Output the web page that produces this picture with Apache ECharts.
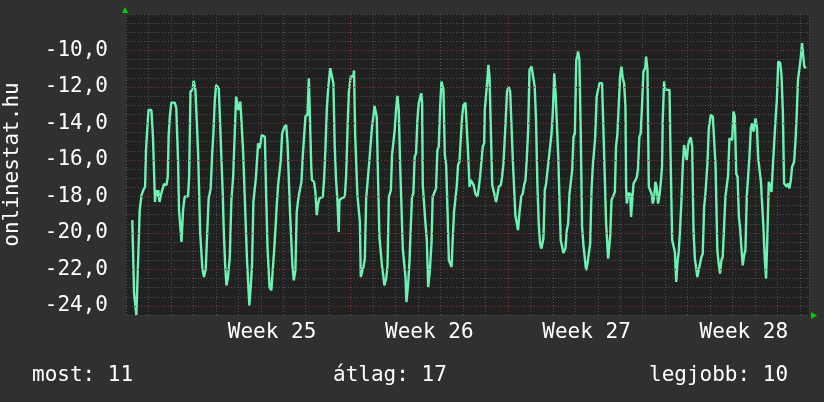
<!DOCTYPE html>
<html>
<head>
<meta charset="utf-8">
<script src="https://cdn.jsdelivr.net/npm/echarts@6/dist/echarts.min.js"></script>
<style>
html, body { margin: 0; padding: 0; background: #303030; }
#chart { width: 824px; height: 402px; }
</style>
</head>
<body>
<div id="chart"></div>
<script>
// x = days from the start of week 25, y = reading
var days = [
  -2.72,-2.64,-2.54,-2.46,-2.39,-2.31,-2.23,-2.15,-2.11,-2.05,-2.00,-1.87,-1.80,-1.75,-1.71,-1.66,-1.60,-1.56,-1.51,-1.45,
  -1.38,-1.31,-1.20,-1.14,-1.10,-1.05,-0.98,-0.83,-0.76,-0.68,-0.64,-0.56,-0.53,-0.49,-0.46,-0.39,-0.24,-0.19,-0.13,-0.04,
  0.01,0.09,0.15,0.21,0.30,0.36,0.40,0.47,0.55,0.62,0.68,0.77,0.83,0.89,0.95,1.01,1.13,1.19,1.25,1.31,
  1.35,1.41,1.47,1.54,1.62,1.69,1.77,1.82,1.90,1.96,2.00,2.03,2.09,2.17,2.21,2.26,2.32,2.39,2.44,2.49,
  2.55,2.61,2.67,2.73,2.78,2.82,2.88,2.94,2.99,3.04,3.18,3.24,3.30,3.35,3.39,3.47,3.53,3.59,3.65,3.71,
  3.77,3.83,3.89,3.95,4.04,4.13,4.19,4.25,4.30,4.36,4.41,4.47,4.54,4.60,4.68,4.75,4.81,4.87,4.93,4.99,
  5.08,5.14,5.21,5.25,5.28,5.37,5.43,5.49,5.55,5.61,5.76,5.82,5.88,5.94,6.00,6.09,6.17,6.23,6.29,6.35,
  6.41,6.47,6.50,6.59,6.74,6.80,6.86,6.92,7.00,7.11,7.15,7.20,7.24,7.30,7.36,7.41,7.45,7.51,7.57,7.63,
  7.69,7.75,7.84,7.89,7.95,8.01,8.06,8.10,8.16,8.22,8.28,8.34,8.40,8.46,8.50,8.58,8.64,8.70,8.79,8.84,
  8.90,8.96,9.02,9.08,9.14,9.20,9.26,9.32,9.38,9.44,9.48,9.56,9.62,9.67,9.73,9.79,9.85,9.91,9.97,10.03,
  10.14,10.18,10.21,10.27,10.33,10.39,10.45,10.52,10.60,10.65,10.71,10.80,10.86,10.92,10.98,11.04,11.13,11.19,11.25,11.31,
  11.37,11.43,11.49,11.54,11.60,11.66,11.72,11.78,11.84,11.90,11.96,12.02,12.11,12.18,12.23,12.29,12.35,12.41,12.47,12.55,
  12.64,12.70,12.76,12.82,12.88,12.94,12.97,13.03,13.09,13.13,13.18,13.24,13.30,13.35,13.41,13.47,13.53,13.59,13.68,13.74,
  13.80,13.86,13.92,13.96,14.02,14.10,14.16,14.22,14.28,14.33,14.39,14.45,14.51,14.59,14.66,14.72,14.78,14.84,14.90,14.96,
  15.05,15.13,15.19,15.25,15.31,15.37,15.43,15.49,15.58,15.64,15.70,15.76,15.82,15.88,15.94,16.00,16.06,16.12,16.18,16.24,
  16.29,16.35,16.41,16.47,16.56,16.62,16.68,16.74,16.80,16.86,16.92,16.98,17.04,17.09,17.12,17.18,17.24,17.30,17.36,17.42,
  17.48,17.54,17.60,17.66,17.72,17.78,17.84,17.88,17.92,17.95,18.01,18.07,18.19,18.25,18.31,18.37,18.43,18.46,18.52,18.55,
  18.61,18.67,18.76,18.81,18.87,18.93,18.99,19.05,19.11,19.17,19.23,19.26,19.29,19.35,19.44,19.48,19.53,19.59,19.68,19.74,
  19.79,19.85,19.91,19.97,20.03,20.11,20.15,20.21,20.27,20.33,20.39,20.45,20.51,20.56,20.62,20.68,20.74,20.80,20.86,20.89,
  20.95,21.01,21.10,21.19,21.25,21.31,21.37,21.43,21.49,21.54,21.60,21.66,21.72,21.78,21.84,21.90,21.96,22.02,22.08,22.14,
  22.20,22.26,22.32,22.37,22.43,22.49,22.55,22.61,22.67,22.73,22.79,22.85,22.88,22.94,22.99,23.03,23.12,23.18,23.24,23.29,
  23.32,23.38,23.44,23.50,23.56,23.62,23.68,23.73,23.80,23.86,23.92,23.98,24.04,24.10,24.16,24.22,24.28,24.34,24.40,24.45,
  24.51,24.57,24.63,24.69,24.75,24.81,24.87,24.93,24.99,25.02,25.08,25.14,25.20,25.26,25.32,25.37,25.43,25.49,25.55,25.61,
  25.67,25.73,25.79,25.85,25.91,25.97,26.03,26.12,26.18,26.24,26.29,26.35,26.41,26.47,26.53,26.59,26.65,26.74,26.80,26.85,
  26.91,26.97,27.03,27.09,27.15,27.19,27.27
];
var temps = [
  -19.30,-23.33,-24.50,-21.50,-18.75,-17.93,-17.66,-17.47,-15.46,-15.37,-13.26,-13.26,-14.73,-14.73,-18.30,-17.66,-18.02,-17.66,-18.30,-17.93,
  -17.93,-17.33,-17.38,-16.92,-14.63,-13.63,-12.86,-12.86,-13.17,-16.19,-18.75,-18.85,-20.49,-20.49,-18.75,-18.02,-17.99,-16.92,-12.25,-12.16,
  -11.65,-12.16,-12.25,-15.64,-19.95,-20.04,-21.96,-22.42,-21.96,-19.85,-18.11,-17.56,-15.82,-14.54,-12.80,-11.89,-12.07,-12.16,-16.01,-18.02,
  -19.85,-21.68,-22.88,-22.42,-21.32,-18.21,-16.92,-16.92,-12.53,-12.44,-13.26,-13.26,-12.80,-12.80,-15.46,-15.55,-19.21,-21.59,-21.68,-23.97,
  -22.97,-21.78,-18.30,-18.21,-17.01,-16.92,-15.09,-15.37,-15.09,-14.63,-14.73,-18.02,-20.86,-20.95,-22.97,-23.15,-22.05,-21.04,-19.85,-18.48,
  -17.38,-17.29,-16.01,-14.54,-14.21,-14.08,-15.09,-15.18,-18.85,-18.94,-21.87,-22.60,-22.05,-18.85,-18.02,-17.93,-17.20,-15.73,-15.73,-13.59,
  -13.53,-11.52,-11.52,-16.56,-17.11,-17.20,-17.75,-19.03,-18.39,-18.11,-18.02,-17.01,-15.27,-13.17,-12.07,-10.97,-10.97,-11.79,-15.27,-17.11,
  -18.21,-19.95,-18.21,-18.11,-18.02,-16.83,-14.36,-12.25,-11.43,-11.43,-11.10,-14.63,-14.73,-17.93,-18.02,-19.40,-22.42,-22.42,-21.87,-21.41,
  -18.11,-18.02,-15.92,-15.92,-14.18,-13.63,-13.04,-13.04,-13.63,-17.11,-20.22,-20.22,-21.87,-22.42,-22.88,-22.51,-21.78,-18.02,-17.66,-15.73,
  -15.64,-14.36,-13.26,-12.49,-13.26,-16.19,-16.28,-20.86,-20.95,-22.42,-23.79,-22.78,-21.50,-19.85,-18.02,-17.84,-15.82,-15.64,-13.81,-12.89,
  -12.34,-12.89,-17.38,-17.47,-19.49,-20.40,-22.97,-22.14,-20.49,-18.02,-17.84,-17.56,-15.46,-15.27,-13.17,-11.70,-12.16,-15.73,-16.28,-18.75,
  -21.50,-21.68,-21.87,-20.40,-18.85,-18.75,-17.47,-16.28,-16.10,-16.10,-13.63,-12.99,-12.86,-12.89,-15.73,-17.47,-17.11,-17.11,-17.38,-17.84,
  -18.02,-17.56,-16.92,-16.83,-15.27,-15.09,-13.26,-13.26,-11.52,-10.79,-11.43,-14.36,-17.38,-17.47,-17.93,-18.30,-17.93,-17.47,-17.38,-16.92,
  -16.19,-14.82,-14.73,-12.25,-11.98,-12.25,-14.18,-16.10,-16.10,-19.03,-19.12,-19.85,-18.94,-18.02,-17.84,-17.38,-17.11,-15.92,-14.36,-11.06,
  -10.88,-10.79,-11.98,-13.81,-17.29,-19.49,-20.59,-20.86,-20.31,-17.66,-17.29,-17.20,-15.92,-15.82,-14.54,-13.35,-11.25,-12.34,-12.25,-15.82,
  -18.02,-20.40,-20.49,-21.10,-20.86,-19.85,-19.49,-17.84,-17.84,-16.56,-14.73,-14.54,-10.51,-10.33,-10.05,-10.51,-14.54,-19.67,-20.68,-20.77,
  -22.05,-21.68,-21.14,-20.59,-17.66,-16.28,-16.19,-14.82,-14.73,-12.53,-12.44,-11.79,-11.79,-14.36,-14.36,-19.49,-19.49,-21.41,-21.41,-20.22,
  -18.21,-18.02,-17.75,-15.27,-14.63,-14.58,-11.43,-10.88,-11.52,-11.79,-13.08,-17.47,-18.39,-17.84,-17.84,-19.12,-19.12,-17.29,-17.11,-16.92,
  -16.47,-14.73,-14.54,-12.99,-11.15,-10.97,-10.33,-11.06,-17.47,-17.56,-17.84,-18.39,-18.02,-17.20,-17.47,-18.39,-18.02,-17.29,-16.37,-13.81,
  -11.70,-12.16,-12.16,-12.16,-16.56,-20.40,-20.49,-21.04,-22.69,-21.68,-21.04,-19.85,-18.30,-16.37,-15.18,-15.18,-16.01,-15.18,-14.91,-14.76,
  -15.27,-19.85,-21.41,-21.50,-22.42,-22.05,-21.96,-21.32,-21.14,-18.66,-17.84,-17.75,-16.19,-14.27,-14.18,-13.53,-13.63,-13.72,-16.28,-19.12,
  -20.95,-21.68,-22.23,-21.50,-21.32,-19.67,-18.02,-18.02,-16.83,-14.82,-14.82,-14.91,-13.35,-13.63,-16.74,-16.92,-19.12,-19.85,-20.95,-21.78,
  -21.23,-20.95,-18.02,-17.93,-15.82,-14.27,-13.99,-14.45,-14.54,-13.72,-14.18,-15.92,-16.01,-17.20,-17.29,-19.67,-21.41,-22.51,-20.04,-17.20,
  -17.29,-17.75,-16.37,-16.37,-13.81,-12.71,-10.60,-10.70,-11.43,-13.53,-17.29,-17.29,-17.47,-17.29,-17.56,-17.11,-16.37,-16.10,-14.91,-13.63,
  -11.61,-11.52,-10.42,-9.60,-9.60,-10.88,-10.97
];
var weekLabels = ['Week 25', 'Week 26', 'Week 27', 'Week 28'];
var weekCenters = [3.5, 10.5, 17.5, 24.5];
var weekStarts = [0, 7, 14, 21];
var majorY = [-24, -22, -20, -18, -16, -14, -12, -10];
var footerLabels = ['most: 11', 'átlag: 17', 'legjobb: 10'];
var footerX = [32, 333, 649];

var font = '"DejaVu Sans Mono", monospace';
var chart = echarts.init(document.getElementById('chart'));

var points = days.map(function (d, i) { return [d, temps[i]]; });
var redLine = { color: '#7c3434', type: [1, 2], width: 1 };

var option = {
  animation: false,
  backgroundColor: '#303030',
  grid: {
    left: 126, top: 14, width: 683, height: 301, containLabel: false, outerBoundsMode: 'none',
    show: true, backgroundColor: '#212121', borderWidth: 0
  },
  xAxis: [{
    type: 'value', min: -3, max: 27.4, interval: 1,
    axisLine: { show: false }, axisTick: { show: false }, axisLabel: { show: false },
    splitLine: { show: true, lineStyle: { color: '#505050', type: [1, 2], width: 1 } }
  }, {
    type: 'value', min: -3, max: 27.4, interval: 0.5, position: 'bottom',
    axisLine: { show: false }, axisTick: { show: false }, splitLine: { show: false },
    axisLabel: {
      color: '#ffffff', fontFamily: font, fontSize: 21, margin: 7,
      showMinLabel: false, showMaxLabel: false, hideOverlap: false,
      formatter: function (v) {
        var i = weekCenters.indexOf(v);
        return i >= 0 ? weekLabels[i] : '';
      }
    }
  }],
  yAxis: {
    type: 'value', min: -24.5, max: -8, interval: 0.5,
    name: 'onlinestat.hu', nameLocation: 'middle', nameGap: 103,
    nameTextStyle: { color: '#ffffff', fontFamily: font, fontSize: 21 },
    axisLine: { show: false }, axisTick: { show: false },
    axisLabel: {
      color: '#ffffff', fontFamily: font, fontSize: 21, margin: 18,
      formatter: function (v) {
        return majorY.indexOf(v) >= 0 ? v.toFixed(1).replace('.', ',') : '';
      }
    },
    splitLine: { show: true, lineStyle: { color: '#505050', type: [1, 2], width: 1 } }
  },
  series: [{
    type: 'line', data: [], z: 1, silent: true,
    markLine: {
      silent: true, symbol: 'none', label: { show: false }, lineStyle: redLine,
      data: weekStarts.map(function (d) { return { xAxis: d }; })
        .concat(majorY.map(function (v) { return { yAxis: v }; }))
    }
  }, {
    type: 'line', data: points, z: 3, showSymbol: false,
    lineStyle: { color: '#6ef2b4', width: 2.4 }
  }],
  graphic: footerLabels.map(function (t, i) {
    return {
      type: 'text', left: footerX[i], top: 365,
      style: { text: t, fill: '#ffffff', font: '21px ' + font }
    };
  }).concat([
    { type: 'polygon', shape: { points: [[122, 13], [128, 13], [125, 7]] }, style: { fill: '#00d000' } },
    { type: 'polygon', shape: { points: [[811, 312], [811, 319], [817, 315.5]] }, style: { fill: '#00d000' } }
  ])
};
chart.setOption(option);
</script>
</body>
</html>
